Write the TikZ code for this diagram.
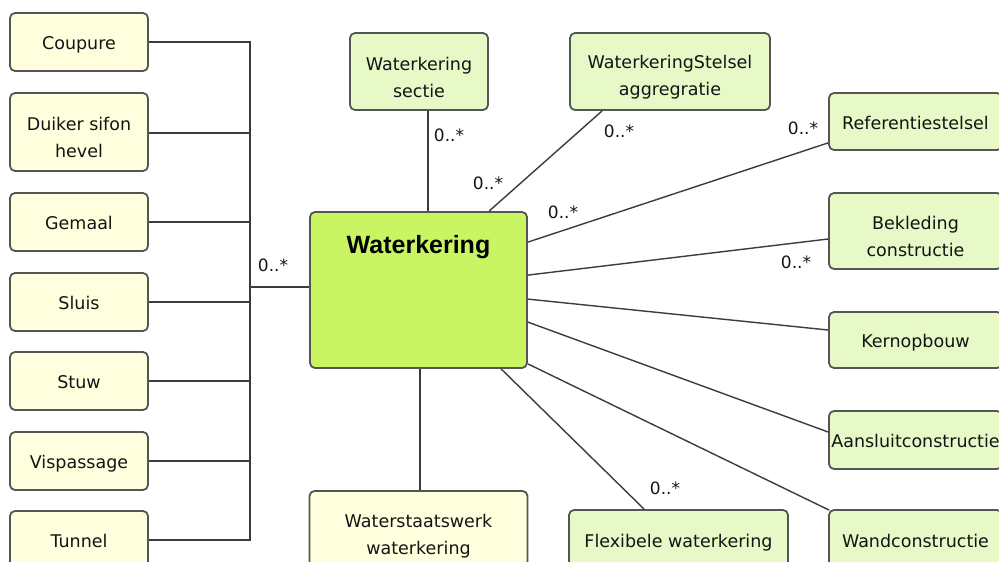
\documentclass[tikz,border=0pt]{standalone}
\usepackage{fontspec}
\setmainfont{DejaVu Sans}
\newfontfamily\titlefont{Liberation Sans}
\usetikzlibrary{calc}
\definecolor{yfill}{HTML}{FFFFDE}
\definecolor{gfill}{HTML}{E6F9C6}
\definecolor{mfill}{HTML}{C9F563}
\definecolor{bord}{HTML}{555555}
\definecolor{linec}{HTML}{3C3C3C}
\definecolor{txt}{HTML}{141414}
\newcommand{\hs}{\rule{0pt}{25pt}}
\tikzset{
  box/.style={draw=bord, line width=1.8pt, rounded corners=5pt, align=center,
    font=\fontsize{17.5}{27}\selectfont, inner sep=0pt, text=txt},
  one/.style={text height=15pt, text depth=0pt},
  ybox/.style={box, fill=yfill, minimum width=138, minimum height=58},
  gbox/.style={box, fill=gfill},
  rbox/.style={gbox, minimum width=173},
  conn/.style={draw=linec, line width=1.4pt},
  mult/.style={font=\fontsize{17}{20}\selectfont, text=txt, inner sep=0pt}
}
\begin{document}
\begin{tikzpicture}[x=1pt,y=-1pt]
\useasboundingbox (0,0) rectangle (999,562);
\clip (0,0) rectangle (999,562);
\fill[white] (0,0) rectangle (999,562);

% left boxes
\node[ybox, one] (coup) at (79,42) {Coupure};
\node[ybox, minimum height=78] (duik) at (79,132) {\hs Duiker sifon\\hevel};
\node[ybox, one] (gem) at (79,222) {Gemaal};
\node[ybox, one] (slu) at (79,302) {Sluis};
\node[ybox, one] (stuw) at (79,381) {Stuw};
\node[ybox, one] (visp) at (79,461) {Vispassage};
\node[ybox, one] (tun) at (79,540) {Tunnel};

% main
\node[box, fill=mfill, minimum width=217, minimum height=156] (wk) at (418.5,290) {};
\node[font=\titlefont\bfseries\fontsize{25}{30}\selectfont, text=black, inner sep=0pt] (wkt) at (418.5,247) {Waterkering};

% top boxes
\node[gbox, minimum width=138, minimum height=77] (sect) at (419,71.5) {\hs Waterkering\\sectie};
\node[gbox, minimum width=200, minimum height=77] (stel) at (670,71.5) {\hs WaterkeringStelsel\\aggregratie};

% right boxes
\node[rbox, one, minimum height=57] (ref) at (915.5,121.5) {Referentiestelsel};
\node[rbox, minimum height=76] (bek) at (915.5,231) {\hs Bekleding\\constructie};
\node[rbox, one, minimum height=56] (kern) at (915.5,340) {Kernopbouw};
\node[rbox, one, minimum height=58] (aans) at (915.5,440) {Aansluitconstructie};
\node[rbox, one, minimum height=60] (wand) at (915.5,540) {Wandconstructie};

% bottom boxes
\node[gbox, one, minimum width=219, minimum height=60] (flex) at (678.5,540) {Flexibele waterkering};
\node[box, fill=yfill, minimum width=218, minimum height=78] (wsw) at (418.5,530) {\hs Waterstaatswerk\\waterkering};

% left bus
\coordinate (bus) at (250,287);
\draw[conn] (coup.east) -- (coup.east -| bus) -- (tun.east -| bus) -- (tun.east);
\draw[conn] ([yshift=-1pt]duik.east) -- ([yshift=-1pt]duik.east -| bus);
\draw[conn] (gem.east) -- (gem.east -| bus);
\draw[conn] (slu.east) -- (slu.east -| bus);
\draw[conn] (stuw.east) -- (stuw.east -| bus);
\draw[conn] (visp.east) -- (visp.east -| bus);
\draw[conn] (bus) -- (bus -| wk.west);

% top connectors
\draw[conn] ([xshift=9pt]sect.south) -- ([xshift=9pt]sect.south |- wk.north);
\draw[conn] ($(stel.south west)+(33,0)$) -- ($(wk.north west)+(180,0)$);

% right connectors
\draw[conn] ($(wk.north east)+(0,31)$) -- ($(ref.south west)+(0,-8)$);
\draw[conn] ($(wk.north east)+(0,64)$) -- ($(bek.west)+(0,8)$);
\draw[conn] ($(wk.north east)+(0,88)$) -- ($(kern.west)+(0,-10)$);
\draw[conn] ($(wk.north east)+(0,111)$) -- ($(aans.west)+(0,-8)$);
\draw[conn] ($(wk.south east)+(0,-5)$) -- ($(wand.north west)+(1,1)$);

% bottom connectors
\draw[conn] ($(wk.south west)+(192,0)$) -- ($(flex.north west)+(76,0)$);
\draw[conn] ([xshift=1.5pt]wk.south) -- ([xshift=1.5pt]wsw.north);

% multiplicities
\node[mult] (m1) at (273,265) {0..*};
\node[mult] (m2) at (449,135) {0..*};
\node[mult] (m3) at (488,183) {0..*};
\node[mult] (m4) at (619,131) {0..*};
\node[mult] (m5) at (563,212) {0..*};
\node[mult] (m6) at (803,128) {0..*};
\node[mult] (m7) at (796,262) {0..*};
\node[mult] (m8) at (665,488) {0..*};
\end{tikzpicture}
\end{document}
